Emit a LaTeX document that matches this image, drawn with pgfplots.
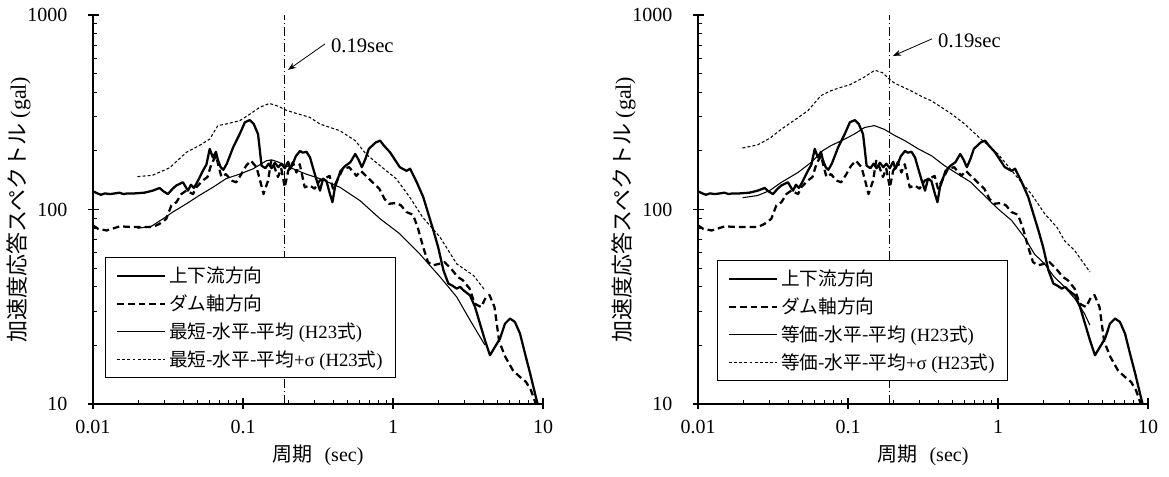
\documentclass[border=0pt]{standalone}
\usepackage{fontspec}
\setmainfont{Liberation Serif}
\newfontfamily\jp{Noto Sans CJK JP}
\usepackage{pgfplots}
\pgfplotsset{compat=1.18}
\usetikzlibrary{arrows.meta}

\tikzset{
  thicksolid/.style={black, line width=1.7pt, line join=round},
  thickdash/.style={black, line width=1.7pt, dash pattern=on 5pt off 3pt, line join=round},
  thinsolid/.style={black, line width=0.8pt, line join=round},
  thindash/.style={black, line width=0.8pt, dash pattern=on 2.2pt off 1.6pt, line join=round},
  dashdotv/.style={black, line width=0.8pt, dash pattern=on 7pt off 2pt on 1pt off 2pt},
}

\begin{document}
\begin{tikzpicture}
\path[use as bounding box] (0,0) rectangle (876.75pt,357.75pt);

% ---------------- Left -----------------
\begin{axis}[at={(69.75pt,54.75pt)}, anchor=south west,
    xmode=log, ymode=log,
    scale only axis, width=337.5pt, height=291.75pt,
    xmin=0.01, xmax=10, ymin=10, ymax=1000,
    axis lines*=left,
    axis line style={line width=1.5pt},
    xtick={0.01,0.1,1,10}, xticklabels={0.01,0.1,1,10},
    ytick={10,100,1000}, yticklabels={10,100,1000},
    minor xtick={0.02,0.03,0.04,0.05,0.06,0.07,0.08,0.09,0.2,0.3,0.4,0.5,0.6,0.7,0.8,0.9,2,3,4,5,6,7,8,9},
    minor ytick={20,30,40,50,60,70,80,90,200,300,400,500,600,700,800,900},
    tick align=inside,
    major tick length=4.5pt, minor tick length=3.2pt,
    major tick style={black, line width=1.1pt},
    minor tick style={black, line width=0.8pt},
    extra x ticks={0.01,0.1,1,10}, extra x tick labels={},
    extra y ticks={10,100,1000}, extra y tick labels={},
    extra tick style={tick align=outside, major tick length=4pt},
    tick label style={font=\fontsize{15}{18}\selectfont},
    yticklabel style={anchor=east, inner sep=0pt, xshift=-19pt},
    xticklabel style={yshift=-8.5pt},
    xlabel style={font=\fontsize{15}{18}\selectfont, at={(axis description cs:0.5,-0.131)}, anchor=center},
    ylabel style={font=\fontsize{16.5}{19}\selectfont, at={(axis description cs:-0.165,0.5)}, rotate=0, anchor=center},
    xlabel={{\jp 周期}\hspace{0.6em}(sec)},
    ylabel={{\jp 加速度応答スペクトル} (gal)},
    legend cell align=left,
    legend image code/.code={\draw[#1] (0pt,0pt) -- (36pt,0pt);},
    legend style={draw=black, line width=0.8pt, font=\fontsize{14}{16}\selectfont,
      row sep=3.5pt, inner xsep=8pt, inner ysep=5pt, anchor=south west, at={(0.0267,0.0668)}}]
\addplot[thicksolid] coordinates {
(0.01,124) (0.0107,121) (0.0113,119) (0.012,121) (0.013,120) (0.014,121) (0.015,122) (0.016,120) (0.017,121) (0.019,121) (0.022,122) (0.025,125) (0.0278,129) (0.0295,124) (0.0316,120) (0.034,128) (0.036,133) (0.0398,138) (0.0414,131) (0.043,125) (0.045,134) (0.047,129) (0.0495,138) (0.054,158) (0.057,170) (0.060,205) (0.063,185) (0.066,198) (0.068,180) (0.071,165) (0.074,160) (0.078,172) (0.082,190) (0.086,209) (0.095,244) (0.103,281) (0.111,288) (0.118,275) (0.126,244) (0.133,168) (0.141,163) (0.148,172) (0.155,163) (0.163,174) (0.172,165) (0.180,172) (0.19,163) (0.200,176) (0.207,162) (0.215,172) (0.225,188) (0.24,200) (0.25,196) (0.265,198) (0.28,185) (0.294,162) (0.31,141) (0.326,125) (0.342,144) (0.36,140) (0.38,120) (0.395,109) (0.41,130) (0.447,158) (0.483,168) (0.52,175) (0.56,193) (0.59,180) (0.62,165) (0.655,182) (0.69,205) (0.766,221) (0.82,226) (0.87,213) (0.955,197) (1.11,165) (1.23,158) (1.30,162) (1.44,138) (1.59,116) (1.72,95) (1.86,78) (2.0,64) (2.17,48.6) (2.34,41.6) (2.5,40.5) (2.66,39.2) (2.8,40) (2.94,38.5) (3.26,36.2) (3.52,31.6) (3.80,25.9) (4.1,21.3) (4.43,17.8) (4.79,19.7) (5.17,21.7) (5.58,25.9) (6.03,27.5) (6.5,26.4) (7.03,23) (7.58,18.2) (8.2,14.4) (8.85,11.3) (9.2,10)
};
\addlegendentry{{\jp 上下流方向}}
\addplot[thickdash] coordinates {
(0.01,82.8) (0.0108,79.6) (0.0123,78) (0.0151,81.9) (0.0185,81.2) (0.0251,81.2) (0.0278,84.4) (0.0308,89.5) (0.0333,105) (0.036,109) (0.0388,120) (0.0418,125) (0.0464,120) (0.0488,130) (0.054,141) (0.058,147) (0.0615,171) (0.066,189) (0.0718,147) (0.077,152) (0.0835,141) (0.09,138) (0.0975,152) (0.105,168) (0.113,178) (0.123,165) (0.130,141) (0.137,120) (0.147,141) (0.154,178) (0.162,165) (0.171,147) (0.18,162) (0.19,130) (0.2,158) (0.215,175) (0.227,155) (0.239,171) (0.258,130) (0.278,133) (0.3,128) (0.325,141) (0.35,144) (0.378,149) (0.398,128) (0.43,144) (0.464,162) (0.51,165) (0.57,149) (0.61,158) (0.66,149) (0.73,138) (0.81,128) (0.88,113) (0.94,107) (1.05,108) (1.13,105) (1.23,97) (1.36,94) (1.47,79.6) (1.59,64) (1.71,53.7) (1.84,51.6) (2.04,52.6) (2.2,53.7) (2.44,49.6) (2.7,45) (2.92,43.3) (3.24,39.2) (3.5,32.8) (3.87,31.5) (4.17,35.5) (4.4,36.3) (4.75,31.5) (5.1,21) (5.6,17.5) (6.3,14.9) (7.0,13.8) (7.7,13) (8.3,11.8) (9.0,9.9)
};
\addlegendentry{{\jp ダム軸方向}}
\addplot[thinsolid] coordinates {
(0.0198,80) (0.0245,82) (0.0293,89.6) (0.034,97) (0.042,107) (0.051,118) (0.063,130) (0.077,144) (0.095,152) (0.117,162) (0.143,178) (0.155,180) (0.17,176) (0.215,162) (0.264,152) (0.326,144) (0.443,130) (0.603,111) (0.82,89.6) (1.11,75) (1.51,59) (2.06,45) (2.66,35.5) (3.26,27) (4.1,20.1)
};
\addlegendentry{{\jp 最短-水平-平均} (H23{\jp 式})}
\addplot[thindash] coordinates {
(0.0198,147.5) (0.025,150) (0.0325,164) (0.042,197) (0.051,213) (0.060,230) (0.068,270) (0.077,275) (0.095,286) (0.111,309) (0.129,335) (0.15,351) (0.171,340) (0.194,324) (0.226,312) (0.278,298) (0.326,275) (0.443,254) (0.56,226) (0.66,193) (0.82,168) (1.05,144) (1.29,116) (1.58,91) (2.06,72) (2.66,52.5) (3.45,45.7) (4.1,38.4)
};
\addlegendentry{{\jp 最短-水平-平均}+σ (H23{\jp 式})}
\addplot[dashdotv, forget plot] coordinates {(0.19,10) (0.19,1000)};
\draw[-{Stealth[length=6pt,width=4.5pt]}, line width=0.6pt] (axis cs:0.352,710) -- (axis cs:0.1995,522);
\node[anchor=west, inner sep=0pt, font=\fontsize{15.5}{18}\selectfont] at (axis cs:0.385,693) {0.19sec};
\end{axis}

% ---------------- Right -----------------
\begin{axis}[at={(523.5pt,54.75pt)}, anchor=south west,
    xmode=log, ymode=log,
    scale only axis, width=337.5pt, height=291.75pt,
    xmin=0.01, xmax=10, ymin=10, ymax=1000,
    axis lines*=left,
    axis line style={line width=1.5pt},
    xtick={0.01,0.1,1,10}, xticklabels={0.01,0.1,1,10},
    ytick={10,100,1000}, yticklabels={10,100,1000},
    minor xtick={0.02,0.03,0.04,0.05,0.06,0.07,0.08,0.09,0.2,0.3,0.4,0.5,0.6,0.7,0.8,0.9,2,3,4,5,6,7,8,9},
    minor ytick={20,30,40,50,60,70,80,90,200,300,400,500,600,700,800,900},
    tick align=inside,
    major tick length=4.5pt, minor tick length=3.2pt,
    major tick style={black, line width=1.1pt},
    minor tick style={black, line width=0.8pt},
    extra x ticks={0.01,0.1,1,10}, extra x tick labels={},
    extra y ticks={10,100,1000}, extra y tick labels={},
    extra tick style={tick align=outside, major tick length=4pt},
    tick label style={font=\fontsize{15}{18}\selectfont},
    yticklabel style={anchor=east, inner sep=0pt, xshift=-19pt},
    xticklabel style={yshift=-8.5pt},
    xlabel style={font=\fontsize{15}{18}\selectfont, at={(axis description cs:0.5,-0.131)}, anchor=center},
    ylabel style={font=\fontsize{16.5}{19}\selectfont, at={(axis description cs:-0.165,0.5)}, rotate=0, anchor=center},
    xlabel={{\jp 周期}\hspace{0.6em}(sec)},
    ylabel={{\jp 加速度応答スペクトル} (gal)},
    legend cell align=left,
    legend image code/.code={\draw[#1] (0pt,0pt) -- (36pt,0pt);},
    legend style={draw=black, line width=0.8pt, font=\fontsize{14}{16}\selectfont,
      row sep=3.5pt, inner xsep=8pt, inner ysep=5pt, anchor=south west, at={(0.042,0.059)}}]
\addplot[thicksolid] coordinates {
(0.01,124) (0.0107,121) (0.0113,119) (0.012,121) (0.013,120) (0.014,121) (0.015,122) (0.016,120) (0.017,121) (0.019,121) (0.022,122) (0.025,125) (0.0278,129) (0.0295,124) (0.0316,120) (0.034,128) (0.036,133) (0.0398,138) (0.0414,131) (0.043,125) (0.045,134) (0.047,129) (0.0495,138) (0.054,158) (0.057,170) (0.060,205) (0.063,185) (0.066,198) (0.068,180) (0.071,165) (0.074,160) (0.078,172) (0.082,190) (0.086,209) (0.095,244) (0.103,281) (0.111,288) (0.118,275) (0.126,244) (0.133,168) (0.141,163) (0.148,172) (0.155,163) (0.163,174) (0.172,165) (0.180,172) (0.19,163) (0.200,176) (0.207,162) (0.215,172) (0.225,188) (0.24,200) (0.25,196) (0.265,198) (0.28,185) (0.294,162) (0.31,141) (0.326,125) (0.342,144) (0.36,140) (0.38,120) (0.395,109) (0.41,130) (0.447,158) (0.483,168) (0.52,175) (0.56,193) (0.59,180) (0.62,165) (0.655,182) (0.69,205) (0.766,221) (0.82,226) (0.87,213) (0.955,197) (1.11,165) (1.23,158) (1.30,162) (1.44,138) (1.59,116) (1.72,95) (1.86,78) (2.0,64) (2.17,48.6) (2.34,41.6) (2.5,40.5) (2.66,39.2) (2.8,40) (2.94,38.5) (3.26,36.2) (3.52,31.6) (3.80,25.9) (4.1,21.3) (4.43,17.8) (4.79,19.7) (5.17,21.7) (5.58,25.9) (6.03,27.5) (6.5,26.4) (7.03,23) (7.58,18.2) (8.2,14.4) (8.85,11.3) (9.2,10)
};
\addlegendentry{{\jp 上下流方向}}
\addplot[thickdash] coordinates {
(0.01,82.8) (0.0108,79.6) (0.0123,78) (0.0151,81.9) (0.0185,81.2) (0.0251,81.2) (0.0278,84.4) (0.0308,89.5) (0.0333,105) (0.036,109) (0.0388,120) (0.0418,125) (0.0464,120) (0.0488,130) (0.054,141) (0.058,147) (0.0615,171) (0.066,189) (0.0718,147) (0.077,152) (0.0835,141) (0.09,138) (0.0975,152) (0.105,168) (0.113,178) (0.123,165) (0.130,141) (0.137,120) (0.147,141) (0.154,178) (0.162,165) (0.171,147) (0.18,162) (0.19,130) (0.2,158) (0.215,175) (0.227,155) (0.239,171) (0.258,130) (0.278,133) (0.3,128) (0.325,141) (0.35,144) (0.378,149) (0.398,128) (0.43,144) (0.464,162) (0.51,165) (0.57,149) (0.61,158) (0.66,149) (0.73,138) (0.81,128) (0.88,113) (0.94,107) (1.05,108) (1.13,105) (1.23,97) (1.36,94) (1.47,79.6) (1.59,64) (1.71,53.7) (1.84,51.6) (2.04,52.6) (2.2,53.7) (2.44,49.6) (2.7,45) (2.92,43.3) (3.24,39.2) (3.5,32.8) (3.87,31.5) (4.17,35.5) (4.4,36.3) (4.75,31.5) (5.1,21) (5.6,17.5) (6.3,14.9) (7.0,13.8) (7.7,13) (8.3,11.8) (9.0,9.9)
};
\addlegendentry{{\jp ダム軸方向}}
\addplot[thinsolid] coordinates {
(0.0198,115) (0.025,118) (0.030,125) (0.036,138) (0.0464,155) (0.057,175) (0.068,201) (0.077,213) (0.095,230) (0.111,245) (0.129,264) (0.15,270) (0.175,258) (0.205,240) (0.239,226) (0.294,205) (0.36,189) (0.44,168) (0.54,152) (0.66,138) (0.81,118) (1.0,100.7) (1.23,88) (1.5,72) (1.75,59) (2.04,52.6) (2.37,45) (2.78,40) (3.25,34.8) (3.77,29.2) (4.1,25.4)
};
\addlegendentry{{\jp 等価-水平-平均} (H23{\jp 式})}
\addplot[thindash] coordinates {
(0.0198,207) (0.025,215) (0.030,232) (0.036,259) (0.044,288) (0.054,322) (0.066,385) (0.077,408) (0.09,425) (0.103,438) (0.126,475) (0.151,520) (0.17,505) (0.19,465) (0.206,445) (0.264,407) (0.316,378) (0.36,362) (0.49,310) (0.6,275) (0.77,230) (1.0,193) (1.29,152) (1.67,120) (2.05,95) (2.47,81) (2.78,69) (3.24,61.6) (4.1,47.7)
};
\addlegendentry{{\jp 等価-水平-平均}+σ (H23{\jp 式})}
\addplot[dashdotv, forget plot] coordinates {(0.19,10) (0.19,1000)};
\draw[-{Stealth[length=6pt,width=4.5pt]}, line width=0.6pt] (axis cs:0.363,754) -- (axis cs:0.1995,616);
\node[anchor=west, inner sep=0pt, font=\fontsize{15.5}{18}\selectfont] at (axis cs:0.398,736) {0.19sec};
\end{axis}
\end{tikzpicture}
\end{document}
